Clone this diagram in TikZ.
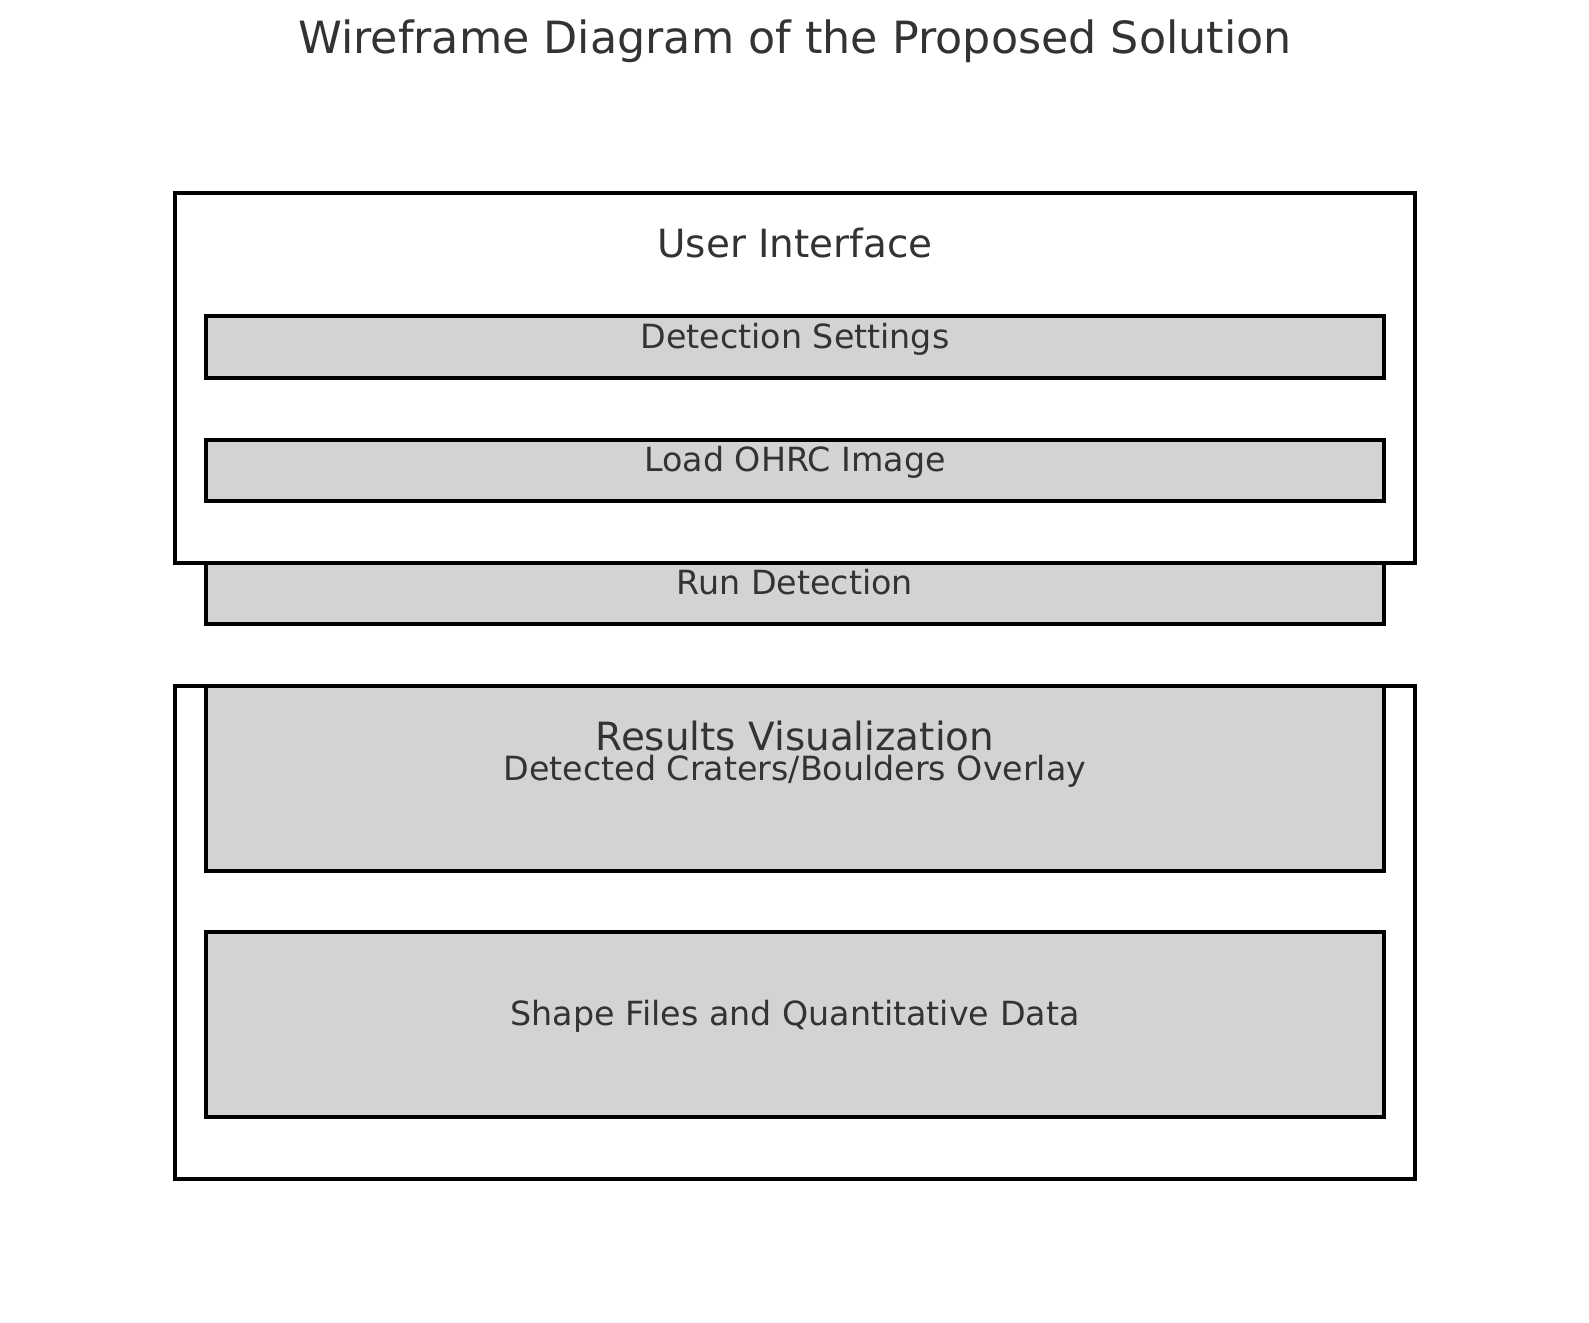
\documentclass[tikz,border=0pt]{standalone}
\usepackage{fontspec}
\setmainfont{DejaVu Sans}
\definecolor{txt}{HTML}{333333}
\definecolor{boxfill}{HTML}{D3D3D3}
\begin{document}
\begin{tikzpicture}[x=1pt,y=-1pt,
  outerbox/.style={draw=black,line width=3.1pt,fill=none,inner sep=0pt,outer sep=0pt},
  innerbox/.style={draw=black,line width=3.1pt,fill=boxfill,inner sep=0pt,outer sep=0pt,minimum width=1178pt},
  lbl/.style={text=txt,inner sep=0pt,font=\fontsize{33.3}{40}\selectfont},
  head/.style={text=txt,inner sep=0pt,font=\fontsize{38.9}{46}\selectfont}]
\useasboundingbox (0,0) rectangle (1589,1322);
\node[text=txt,inner sep=0pt,font=\fontsize{44.4}{52}\selectfont] (title) at (795,41) {Wireframe Diagram of the Proposed Solution};
% User interface
\node[outerbox,minimum width=1240pt,minimum height=370pt] (ui) at (795,378) {};
\node[innerbox,minimum height=62pt] (settings) at (795,347) {};
\node[innerbox,minimum height=61pt] (load) at (795,470.5) {};
\node[innerbox,minimum height=61pt] (run) at (795,593.5) {};
\node[head] (uit) at (795,243) {User Interface};
\node[lbl] (settingst) at (795,339) {Detection Settings};
\node[lbl] (loadt) at (795,462) {Load OHRC Image};
\node[lbl] (runt) at (795,582) {Run Detection};
% Results
\node[innerbox,minimum height=185pt] (det) at (795,778.5) {};
\node[innerbox,minimum height=185pt] (shape) at (795,1024.5) {};
\node[outerbox,minimum width=1240pt,minimum height=493pt] (res) at (795,932.5) {};
\node[head] (rest) at (795,736) {Results Visualization};
\node[lbl] (dett) at (795,771) {Detected Craters/Boulders Overlay};
\node[lbl] (shapet) at (795,1016) {Shape Files and Quantitative Data};
\end{tikzpicture}
\end{document}
